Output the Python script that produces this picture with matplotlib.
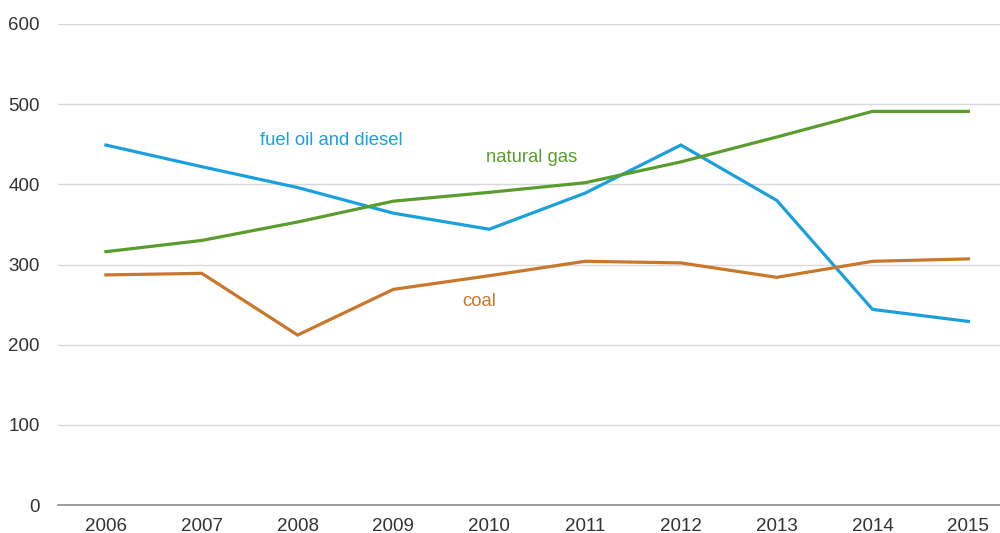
import matplotlib

matplotlib.use("Agg")
import matplotlib.pyplot as plt  # noqa: E402

years = ["2006", "2007", "2008", "2009", "2010", "2011", "2012", "2013", "2014", "2015"]
fuel_oil = [449, 422, 396, 364, 344, 389, 449, 380, 244, 229]
natural_gas = [316, 330, 353, 379, 390, 402, 428, 459, 491, 491]
coal = [287, 289, 212, 269, 286, 304, 302, 284, 304, 307]

BLUE = "#1aa0dc"
GREEN = "#5a9c2e"
ORANGE = "#c8772c"

plt.rcParams["font.family"] = ["Liberation Sans", "DejaVu Sans"]

fig = plt.figure(figsize=(10, 5.33), dpi=100)
ax = fig.add_axes([0.058, 0.0525, 0.942, 0.9025])

x = list(range(len(years)))
ax.plot(x, fuel_oil, color=BLUE, lw=2.3, solid_joinstyle="miter")
ax.plot(x, natural_gas, color=GREEN, lw=2.3, solid_joinstyle="miter")
ax.plot(x, coal, color=ORANGE, lw=2.3, solid_joinstyle="miter")

ax.text(2.35, 455, "fuel oil and diesel", color=BLUE, fontsize=13.3, ha="center", va="center")
ax.text(4.44, 434, "natural gas", color=GREEN, fontsize=13.3, ha="center", va="center")
ax.text(3.9, 254, "coal", color=ORANGE, fontsize=13.3, ha="center", va="center")

ax.set_xlim(-0.5, 9.33)
ax.set_ylim(0, 600)
ax.set_yticks(range(0, 601, 100))
ax.set_xticks(x)
ax.set_xticklabels(years)
ax.grid(axis="y", color="#d9d9d9", lw=1)
ax.set_axisbelow(True)
for side in ["top", "right", "left"]:
    ax.spines[side].set_visible(False)
ax.spines["bottom"].set_color("#8c8c8c")
ax.spines["bottom"].set_linewidth(1.2)
ax.tick_params(axis="both", length=0, labelsize=13.5, colors="#333333")
ax.tick_params(axis="y", pad=13)
ax.tick_params(axis="x", pad=9)

fig.savefig("out.png", dpi=100)
